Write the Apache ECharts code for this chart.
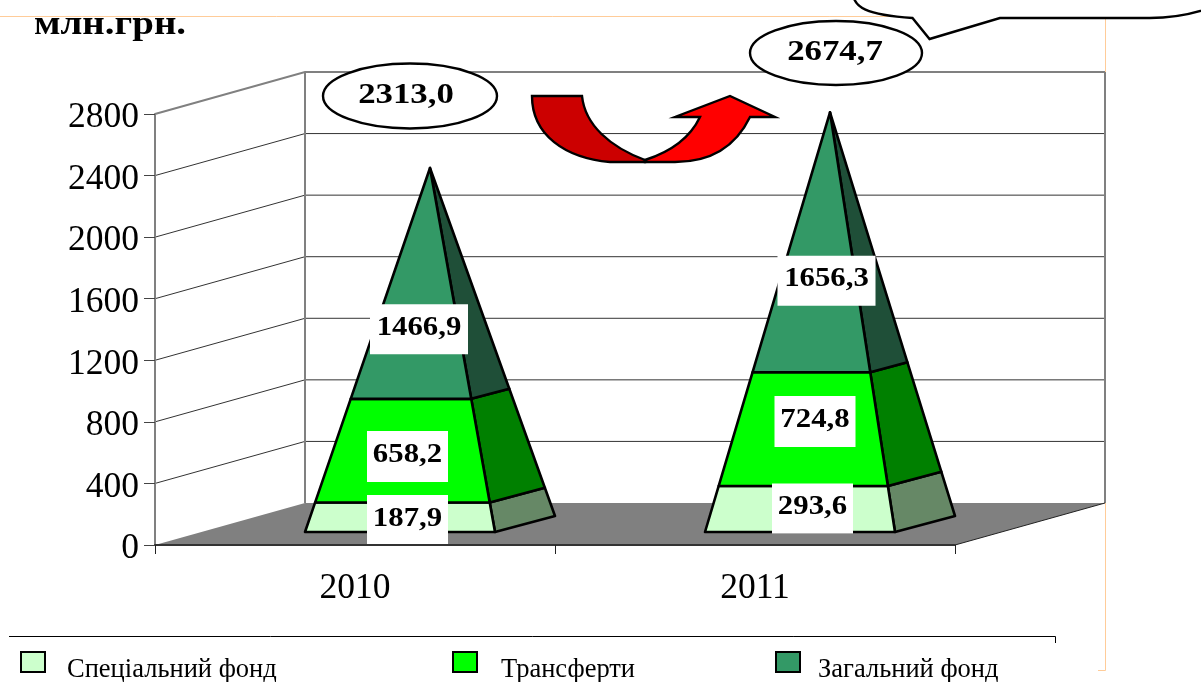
<!DOCTYPE html>
<html>
<head>
<meta charset="utf-8">
<style>html,body{margin:0;padding:0;background:#fff}#c{width:1201px;height:682px}</style>
<script src="https://cdn.jsdelivr.net/npm/echarts@6/dist/echarts.min.js"></script>
</head>
<body>
<div id="c"></div>
<script>
var categories = ['2010', '2011'];
var specialFund = [187.9, 293.6];
var transfers = [658.2, 724.8];
var generalFund = [1466.9, 1656.3];
var totals = [2313.0, 2674.7];
var yTicks = [400, 800, 1200, 1600, 2000, 2400, 2800];
var seriesNames = ['Спеціальний фонд', 'Трансферти', 'Загальний фонд'];
var unitLabel = 'млн.грн.';

// ---- layout and style (not data) ----
var SERIF = '"Liberation Serif","Times New Roman",serif';
var DEPTH = [150, -42];
var HALF_W = 95, HALF_D = [30, -8];
var frontColors = ['#CCFFCC', '#00FF00', '#339966'];
var sideColors = ['#668866', '#008000', '#1F4F38'];
var labelShift = [
  [[52.5, -10.5], [57.5, -14]],
  [[52.5, -9], [60, -22.5]],
  [[64, 27.5], [71.5, 20]]
];
var labelBox = [[81, 50], [81, 51], [98, 50]];
var fmt = function (v) { return v.toFixed(1).replace('.', ','); };

function floorItem(params, api) {
  var o = api.coord([0, 0]);
  var band = api.size([1, 0])[0];
  var x0 = o[0] - band / 2, x1 = x0 + band * categories.length, y = o[1];
  return {
    type: 'polygon',
    shape: { points: [[x0, y], [x0 + DEPTH[0], y + DEPTH[1]], [x1 + DEPTH[0], y + DEPTH[1]], [x1, y]] },
    style: { fill: '#808080', stroke: null }
  };
}
function wallItem(params, api) {
  var v = api.value(1);
  var top = v === yTicks[yTicks.length - 1];
  var c = api.coord([0, v]);
  var band = api.size([1, 0])[0];
  var x0 = c[0] - band / 2, x1 = x0 + band * categories.length, y = c[1];
  var children = [{
    type: 'polyline',
    shape: { points: [[x0, y], [x0 + DEPTH[0], y + DEPTH[1]], [x1 + DEPTH[0], y + DEPTH[1]]] },
    style: { fill: null, stroke: top ? '#808080' : '#333', lineWidth: top ? 2 : 1 }
  }];
  if (top) {
    var b = api.coord([0, 0])[1];
    children.push({ type: 'line', shape: { x1: x0 + DEPTH[0], y1: y + DEPTH[1], x2: x0 + DEPTH[0], y2: b + DEPTH[1] }, style: { stroke: '#808080', lineWidth: 2 } });
    children.push({ type: 'line', shape: { x1: x1 + DEPTH[0], y1: y + DEPTH[1], x2: x1 + DEPTH[0], y2: b + DEPTH[1] }, style: { stroke: '#808080', lineWidth: 2 } });
    children.push({ type: 'line', shape: { x1: x1, y1: b, x2: x1 + DEPTH[0], y2: b + DEPTH[1] }, style: { stroke: '#222', lineWidth: 1 } });
  }
  return { type: 'group', children: children };
}
function pyramidItem(k) {
  return function (params, api) {
    var i = api.value(0), from = api.value(1), to = api.value(2), total = api.value(3);
    var cx = api.coord([i, 0])[0] + DEPTH[0] / 2;
    function ring(v) {
      var t = 1 - v / total, cy = api.coord([i, v])[1] + DEPTH[1] / 2;
      return {
        fl: [cx - (HALF_W + HALF_D[0]) * t, cy - HALF_D[1] * t],
        fr: [cx + (HALF_W - HALF_D[0]) * t, cy - HALF_D[1] * t],
        br: [cx + (HALF_W + HALF_D[0]) * t, cy + HALF_D[1] * t]
      };
    }
    var a = ring(from), b = ring(to);
    var line = { stroke: '#000', lineWidth: 2.6, lineJoin: 'round' };
    var mid = api.coord([i, (from + to) / 2]);
    var sh = labelShift[k][i], box = labelBox[k];
    var lx = mid[0] + sh[0], ly = mid[1] + sh[1];
    return {
      type: 'group',
      children: [
        { type: 'polygon', z2: 2, shape: { points: [a.fr, a.br, b.br, b.fr] }, style: Object.assign({ fill: sideColors[k] }, line) },
        { type: 'polygon', z2: 3, shape: { points: [a.fl, a.fr, b.fr, b.fl] }, style: Object.assign({ fill: frontColors[k] }, line) },
        { type: 'rect', z2: 50, shape: { x: lx - box[0] / 2, y: ly - box[1] / 2, width: box[0], height: box[1] }, style: { fill: '#fff' } },
        { type: 'text', z2: 51, x: lx, y: ly - 1.5, scaleX: 1.14, style: { text: fmt(to - from), font: 'bold 27px ' + SERIF, fill: '#000', textAlign: 'center', textVerticalAlign: 'middle', verticalAlign: 'middle' } }
      ]
    };
  };
}
function fundRows(vals, lower) {
  return vals.map(function (v, i) {
    var start = lower.reduce(function (s, arr) { return s + arr[i]; }, 0);
    return [i, start, start + v, totals[i]];
  });
}
function fundSeries(k, vals, lower) {
  return {
    name: seriesNames[k], type: 'custom', coordinateSystem: 'cartesian2d', z: 2, silent: true,
    itemStyle: { color: frontColors[k] },
    encode: { x: 0, y: [1, 2] },
    data: fundRows(vals, lower),
    renderItem: pyramidItem(k)
  };
}
function legendAt(k, left, pad) {
  return {
    data: [{ name: seriesNames[k], icon: 'rect' }], left: left, top: 651, itemWidth: 24, itemHeight: 20,
    selectedMode: false, padding: 0,
    formatter: '{a|{name}}',
    itemStyle: { color: frontColors[k], borderColor: '#000', borderWidth: 2 },
    textStyle: {
      fontFamily: SERIF, fontSize: 26.5, color: '#000',
      rich: { a: { fontFamily: SERIF, fontSize: 26.5, color: '#000', lineHeight: 43, verticalAlign: 'bottom', padding: [0, 0, 0, pad] } }
    }
  };
}
function pathEl(d, x, y, w, h, style) {
  return { type: 'path', shape: { pathData: d, x: x, y: y, width: w, height: h, layout: 'cover' }, style: style };
}
function ovalEls(cx, cy, rx, ry, text, tx) {
  var k = 0.5523, ax = rx * k, ay = ry * k;
  var d = 'M' + (cx - rx) + ',' + cy +
    ' C' + (cx - rx) + ',' + (cy - ay) + ' ' + (cx - ax) + ',' + (cy - ry) + ' ' + cx + ',' + (cy - ry) +
    ' C' + (cx + ax) + ',' + (cy - ry) + ' ' + (cx + rx) + ',' + (cy - ay) + ' ' + (cx + rx) + ',' + cy +
    ' C' + (cx + rx) + ',' + (cy + ay) + ' ' + (cx + ax) + ',' + (cy + ry) + ' ' + cx + ',' + (cy + ry) +
    ' C' + (cx - ax) + ',' + (cy + ry) + ' ' + (cx - rx) + ',' + (cy + ay) + ' ' + (cx - rx) + ',' + cy + ' Z';
  return [
    pathEl(d, cx - rx, cy - ry, 2 * rx, 2 * ry, { fill: '#fff', stroke: '#000', lineWidth: 2.4 }),
    { type: 'text', x: tx, y: cy, scaleX: 1.2, style: { text: text, font: 'bold 29px ' + SERIF, fill: '#000', textAlign: 'center', textVerticalAlign: 'middle', verticalAlign: 'middle' } }
  ];
}
function decorItem() {
  var black = { stroke: '#000', lineWidth: 2.4, lineJoin: 'miter' };
  return {
    type: 'group',
    children: [
      pathEl('M855,-10 C853,8 870,15 914,18 L931,39 L1001,18 L1150,18 C1172,18 1192,15 1215,6 L1215,-10 Z', 853, -10, 362, 49, Object.assign({ fill: '#fff' }, black)),
      pathEl('M532,96 L582,96 C585,125 610,147 645,160 L645,162 L610,162 C565,158 532,135 532,96 Z', 532, 96, 113, 66, Object.assign({ fill: '#CC0000' }, black)),
      pathEl('M645,160 C670,152 690,138 700,117 L675,117 L730,96 L775,117 L750,117 C735,148 710,162 675,162 L645,162 Z', 645, 96, 130, 66, Object.assign({ fill: '#FF0000' }, black))
    ].concat(ovalEls(410, 96, 87, 32.5, fmt(totals[0]), 406), ovalEls(836, 53, 86, 32, fmt(totals[1]), 835))
  };
}
var orange = { stroke: '#FFCC99', lineWidth: 1 };
var graphics = [
  { type: 'polyline', z: 0, shape: { points: [[0, 16.5], [1105.5, 16.5], [1105.5, 670.5], [1098, 670.5]] }, style: Object.assign({ fill: null }, orange) },
  { type: 'polyline', z: 5, shape: { points: [[9, 636.5], [1055.5, 636.5], [1055.5, 643]] }, style: { fill: null, stroke: '#000', lineWidth: 1 } },
  { type: 'text', z: 11, x: 34, y: 25, scaleX: 1.18, style: { text: unitLabel, font: 'bold 33px ' + SERIF, fill: '#000', textAlign: 'left', textVerticalAlign: 'middle', verticalAlign: 'middle' } }
];

var chart = echarts.init(document.getElementById('c'), null, { renderer: 'canvas' });
chart.setOption({
  animation: false,
  backgroundColor: '#fff',
  grid: { left: 155, top: 114, width: 800, height: 431, containLabel: false },
  legend: [legendAt(0, 20, 17), legendAt(1, 452, 19), legendAt(2, 775, 13)],
  xAxis: {
    type: 'category', data: categories, z: 3,
    axisLine: { onZero: false, lineStyle: { color: '#333', width: 2 } },
    axisTick: { show: true, length: 9, lineStyle: { color: '#222', width: 1 } },
    axisLabel: { fontFamily: SERIF, fontSize: 35.5, color: '#000', margin: 26 }
  },
  yAxis: {
    type: 'value', min: 0, max: 2800, interval: 400, z: 3,
    splitLine: { show: false },
    axisLine: { show: true, lineStyle: { color: '#808080', width: 2 } },
    axisTick: { show: true, length: 11, lineStyle: { color: '#444', width: 1 } },
    axisLabel: {
      margin: 16, formatter: function (v) { return '{a|' + v + '}'; },
      rich: { a: { fontFamily: SERIF, fontSize: 35.5, color: '#000', lineHeight: 44, verticalAlign: 'bottom' } }
    }
  },
  graphic: graphics,
  series: [
    { type: 'custom', z: 1, silent: true, encode: { x: 0, y: 1 }, data: [[0, 0]], renderItem: floorItem },
    { type: 'custom', z: 1, silent: true, encode: { x: 0, y: 1 }, data: yTicks.map(function (v) { return [0, v]; }), renderItem: wallItem },
    fundSeries(0, specialFund, []),
    fundSeries(1, transfers, [specialFund]),
    fundSeries(2, generalFund, [specialFund, transfers]),
    { type: 'custom', z: 8, silent: true, encode: { x: 0, y: 1 }, data: [[0, 0]], renderItem: decorItem }
  ]
});
</script>
</body>
</html>
